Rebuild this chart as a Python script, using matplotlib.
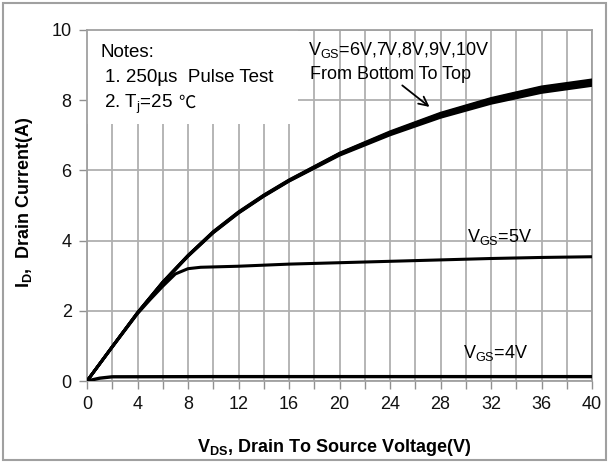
import matplotlib
matplotlib.use("Agg")
import matplotlib.pyplot as plt
from matplotlib.patches import Rectangle

plt.rcParams['font.family'] = ['Liberation Sans', 'DejaVu Sans']
plt.rcParams['mathtext.fontset'] = 'custom'
plt.rcParams['mathtext.rm'] = 'Liberation Sans'
plt.rcParams['mathtext.it'] = 'Liberation Sans:italic'
plt.rcParams['mathtext.bf'] = 'Liberation Sans:bold'

# Data
vds_main = [0, 2, 4, 6, 8, 10, 12, 14, 16, 20, 24, 28, 32, 36, 40]
id_10v = [0, 0.98, 1.95, 2.82, 3.58, 4.26, 4.82, 5.30, 5.73, 6.49, 7.10, 7.63, 8.05, 8.38, 8.58]
id_9v  = [0, 0.98, 1.95, 2.82, 3.58, 4.25, 4.81, 5.29, 5.72, 6.48, 7.08, 7.61, 8.03, 8.36, 8.55]
id_8v  = [0, 0.98, 1.94, 2.81, 3.57, 4.24, 4.80, 5.28, 5.71, 6.47, 7.06, 7.58, 8.00, 8.32, 8.52]
id_7v  = [0, 0.97, 1.94, 2.80, 3.56, 4.23, 4.79, 5.27, 5.70, 6.45, 7.04, 7.55, 7.96, 8.28, 8.47]
id_6v  = [0, 0.97, 1.93, 2.79, 3.55, 4.22, 4.78, 5.26, 5.69, 6.43, 7.01, 7.51, 7.91, 8.22, 8.42]

vds_5v = [0, 2, 4, 5, 6, 7, 8, 9, 10, 12, 16, 20, 24, 28, 32, 36, 40]
id_5v = [0, 0.97, 1.92, 2.32, 2.70, 3.05, 3.20, 3.24, 3.25, 3.27, 3.33, 3.37, 3.41, 3.45, 3.49, 3.52, 3.54]

vds_4v = [0, 1, 2, 10, 20, 30, 40]
id_4v = [0, 0.08, 0.12, 0.125, 0.125, 0.125, 0.125]

xticks = [0, 4, 8, 12, 16, 20, 24, 28, 32, 36, 40]
yticks = [0, 2, 4, 6, 8, 10]

fig = plt.figure(figsize=(6.09, 4.62), dpi=100)
ax = fig.add_axes([87/609, 1-381/462, (592-87)/609, (381-30)/462])

ax.set_xlim(0, 40)
ax.set_ylim(0, 10)
ax.set_xticks(xticks)
ax.set_xticks(range(0, 41, 2), minor=True)
ax.set_yticks(yticks)
ax.tick_params(axis='both', which='both', direction='out', length=6, width=1,
               color='#909090', labelsize=13, labelcolor='#111111', pad=5)
ax.set_axisbelow(True)
ax.grid(True, which='both', color='#b0b0b0', linewidth=1.3)
for s in ax.spines.values():
    s.set_color('#a0a0a0')
    s.set_linewidth(1.3)

# white box behind notes
ax.add_patch(Rectangle((0, 7.33), 16.7, 2.67, facecolor='white', edgecolor='none', zorder=1))

for y in [id_6v, id_7v, id_8v, id_9v, id_10v]:
    ax.plot(vds_main, y, color='black', linewidth=2.0, zorder=3)
ax.plot(vds_5v, id_5v, color='black', linewidth=2.2, zorder=3)
ax.plot(vds_4v, id_4v, color='black', linewidth=2.4, zorder=3)

fs = 13.5
ax.text(1.03, 9.35, 'Notes:', fontsize=fs, va='center', ha='left', zorder=4)
ax.text(1.43, 8.66, '1. 250µs  Pulse Test', fontsize=fs, va='center', ha='left', zorder=4)
ax.text(1.35, 7.78, r'2. T$_\mathregular{j}$=25', fontsize=fs, va='baseline', ha='left', zorder=4)
ax.text(7.2, 7.78, '℃', fontsize=fs - 1, va='baseline', ha='left',
        family=['Noto Sans CJK SC', 'DejaVu Sans'], zorder=4)

ax.text(17.5, 9.43, r'V$_\mathregular{GS}$=6V,7V,8V,9V,10V', fontsize=13, va='center', ha='left', zorder=4)
ax.text(17.66, 8.72, 'From Bottom To Top', fontsize=13, va='center', ha='left', zorder=4)
ax.annotate('', xy=(27.3, 7.76), xytext=(24.8, 8.47),
            arrowprops=dict(arrowstyle='->', color='black', lw=1.3, mutation_scale=16), zorder=4)

ax.text(30.1, 4.09, r'V$_\mathregular{GS}$=5V', fontsize=13, va='center', ha='left', zorder=4)
ax.text(29.8, 0.8, r'V$_\mathregular{GS}$=4V', fontsize=13, va='center', ha='left', zorder=4)

fig.text(334/609, 1-447/462, r'$\mathbf{V_{DS}}$, Drain To Source Voltage(V)', fontsize=13,
         fontweight='bold', ha='center', va='center')
fig.text(25/609, 1-202/462, r'$\mathbf{I_{D}}$,  Drain Current(A)', fontsize=13,
         fontweight='bold', ha='center', va='center', rotation=90)

# figure border
fig.add_artist(Rectangle((3/609, 2/462), 603/609, 457/462, transform=fig.transFigure,
                         facecolor='none', edgecolor='#a0a0a0', linewidth=1.5))

fig.savefig('out.png', dpi=100)
